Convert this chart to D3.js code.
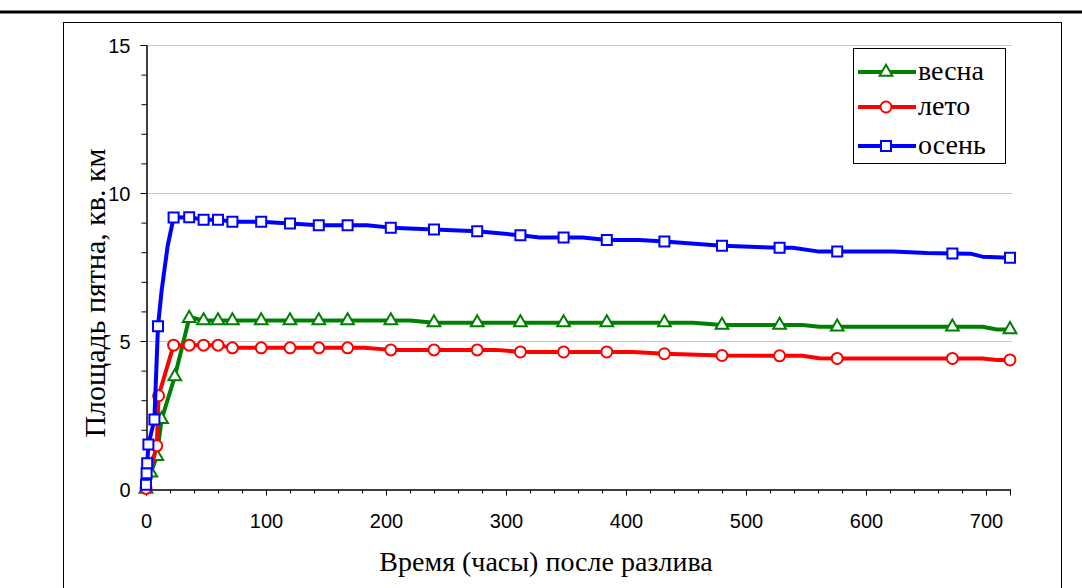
<!DOCTYPE html>
<html>
<head>
<meta charset="utf-8">
<script src="https://cdn.jsdelivr.net/npm/d3@7"></script>
<style>
    body { margin: 0; background: #fff; }
    svg { display: block; }
</style>
</head>
<body>
<svg id="chart" width="1082" height="588"></svg>
<script>
// весна
const springHours = [0, 1, 4, 9, 13, 24, 36, 38, 48, 60, 72, 96, 120, 144, 168, 204, 220, 240, 276, 312, 348, 384, 432, 456, 480, 528, 547, 561, 576, 672, 697, 709, 720];
const springValues = [0, 0.02, 0.55, 1.1, 2.35, 3.8, 5.77, 5.8, 5.69, 5.69, 5.69, 5.69, 5.69, 5.69, 5.69, 5.69, 5.69, 5.62, 5.62, 5.62, 5.62, 5.62, 5.62, 5.62, 5.54, 5.54, 5.54, 5.48, 5.48, 5.48, 5.48, 5.39, 5.39];
const springMarks = [0, 4, 9, 13, 24, 36, 48, 60, 72, 96, 120, 144, 168, 204, 240, 276, 312, 348, 384, 432, 480, 528, 576, 672, 720];

// лето
const summerHours = [0, 9, 10.5, 23, 36, 48, 60, 72, 96, 120, 144, 168, 182, 204, 240, 276, 292, 312, 348, 384, 406, 432, 480, 528, 547, 561, 576, 672, 697, 709, 720];
const summerValues = [0.02, 1.46, 3.15, 4.86, 4.86, 4.86, 4.86, 4.77, 4.77, 4.77, 4.77, 4.77, 4.77, 4.70, 4.70, 4.70, 4.70, 4.63, 4.63, 4.63, 4.63, 4.57, 4.51, 4.50, 4.50, 4.42, 4.41, 4.41, 4.41, 4.36, 4.36];
const summerMarks = [0, 9, 10.5, 23, 36, 48, 60, 72, 96, 120, 144, 168, 204, 240, 276, 312, 348, 384, 432, 480, 528, 576, 672, 720];

// осень
const autumnHours = [0, 0.5, 1, 2, 7, 10, 13, 18, 23, 36, 48, 60, 72, 96, 120, 144, 168, 184, 204, 240, 276, 312, 328, 348, 364, 384, 411, 432, 480, 528, 539, 561, 576, 622, 651, 672, 687, 697, 720];
const autumnValues = [0.14, 0.53, 0.87, 1.5, 2.35, 5.5, 6.7, 8.2, 9.17, 9.18, 9.1, 9.1, 9.03, 9.03, 8.97, 8.91, 8.91, 8.91, 8.83, 8.77, 8.71, 8.57, 8.50, 8.50, 8.50, 8.41, 8.41, 8.36, 8.22, 8.15, 8.15, 8.02, 8.02, 8.02, 7.97, 7.96, 7.95, 7.85, 7.81];
const autumnMarks = [0, 0.5, 1, 2, 7, 10, 23, 36, 48, 60, 72, 96, 120, 144, 168, 204, 240, 276, 312, 348, 384, 432, 480, 528, 576, 672, 720];

const seriesNames = ['весна', 'лето', 'осень'];
const xTicks = [0, 100, 200, 300, 400, 500, 600, 700];
const yTicks = [0, 5, 10, 15];

const xTitle = 'Время (часы) после разлива';
const yTitle = 'Площадь пятна, кв. км';

const series = [
    { name: seriesNames[0], hours: springHours, values: springValues, marks: springMarks, color: '#008000', symbol: d3.symbolTriangle, size: 70 },
    { name: seriesNames[1], hours: summerHours, values: summerValues, marks: summerMarks, color: '#ff0000', symbol: d3.symbolCircle, size: 95 },
    { name: seriesNames[2], hours: autumnHours, values: autumnValues, marks: autumnMarks, color: '#0000ff', symbol: d3.symbolSquare, size: 100 }
];

const svg = d3.select('#chart');

// outer frame
svg.append('line')
    .attr('x1', 0).attr('x2', 1082)
    .attr('y1', 12).attr('y2', 12)
    .attr('stroke', '#000').attr('stroke-width', 3);

svg.append('rect')
    .attr('x', 63.5).attr('y', 22.5)
    .attr('width', 998).attr('height', 600)
    .attr('fill', 'none').attr('stroke', '#000').attr('stroke-width', 1);

const margin = { left: 146, right: 1010, top: 45, bottom: 489 };

const xScale = d3.scaleLinear()
    .domain([0, 720])
    .range([margin.left, margin.right]);

const yScale = d3.scaleLinear()
    .domain([0, 15])
    .range([margin.bottom, margin.top]);

// gridlines
svg.append('g')
    .selectAll('line')
    .data(yTicks.filter(d => d > 0))
    .join('line')
    .attr('x1', margin.left).attr('x2', margin.right + 2)
    .attr('y1', d => Math.round(yScale(d)) + 0.5)
    .attr('y2', d => Math.round(yScale(d)) + 0.5)
    .attr('stroke', '#c8c8c8').attr('stroke-width', 1);

// x axis: minor ticks every 20, major every 100
const xAxisG = svg.append('g')
    .attr('transform', `translate(0,${margin.bottom + 0.5})`);

xAxisG.call(d3.axisBottom(xScale).tickValues(d3.range(0, 721, 20)).tickSize(4).tickFormat(''));
xAxisG.call(g => g.append('g').call(d3.axisBottom(xScale).tickValues(xTicks).tickSize(6).tickFormat(d3.format('d'))));
xAxisG.selectAll('.domain').attr('stroke', '#000');
xAxisG.selectAll('text')
    .attr('font-family', 'Liberation Sans, Arial, sans-serif')
    .attr('font-size', 20)
    .attr('fill', '#000')
    .attr('dy', '1.45em');

// y axis: minor ticks every 1, labels every 5
const yAxisG = svg.append('g')
    .attr('transform', `translate(${margin.left + 0.5},0)`);

yAxisG.call(d3.axisLeft(yScale).tickValues(d3.range(0, 16, 1)).tickSize(5).tickFormat(''));
yAxisG.call(g => g.append('g').call(d3.axisLeft(yScale).tickValues(yTicks).tickSize(6).tickFormat(d3.format('d'))));
yAxisG.selectAll('text')
    .attr('font-family', 'Liberation Sans, Arial, sans-serif')
    .attr('font-size', 20)
    .attr('fill', '#000')
    .attr('x', -16)
    .attr('dy', '0.36em');

// series
const line = d3.line()
    .x(d => xScale(d[0]))
    .y(d => yScale(d[1]));

series.forEach(s => {
    const points = d3.zip(s.hours, s.values);

    svg.append('path')
        .datum(points)
        .attr('fill', 'none')
        .attr('stroke', s.color)
        .attr('stroke-width', 4)
        .attr('stroke-linejoin', 'round')
        .attr('d', line);

    svg.append('g')
        .selectAll('path')
        .data(points.filter(p => s.marks.includes(p[0])))
        .join('path')
        .attr('transform', d => `translate(${xScale(d[0])},${yScale(d[1])})`)
        .attr('d', d3.symbol().type(s.symbol).size(s.size))
        .attr('fill', '#fff')
        .attr('stroke', s.color)
        .attr('stroke-width', 2);
});

// axis titles
svg.append('text')
    .attr('x', 546)
    .attr('y', 571)
    .attr('text-anchor', 'middle')
    .attr('font-family', 'Liberation Serif, Times New Roman, serif')
    .attr('font-size', 28)
    .text(xTitle);

svg.append('text')
    .attr('transform', 'translate(105,293) rotate(-90)')
    .attr('text-anchor', 'middle')
    .attr('font-family', 'Liberation Serif, Times New Roman, serif')
    .attr('font-size', 30)
    .text(yTitle);

// legend
const legend = svg.append('g');

legend.append('rect')
    .attr('x', 853.5).attr('y', 48.5)
    .attr('width', 152).attr('height', 115)
    .attr('fill', '#fff').attr('stroke', '#000').attr('stroke-width', 1);

const legendRows = [72, 107, 146];

series.forEach((s, i) => {
    const ly = legendRows[i];
    legend.append('line')
        .attr('x1', 858).attr('x2', 916)
        .attr('y1', ly).attr('y2', ly)
        .attr('stroke', s.color).attr('stroke-width', 4);
    legend.append('path')
        .attr('transform', `translate(886,${ly})`)
        .attr('d', d3.symbol().type(s.symbol).size(s.size))
        .attr('fill', '#fff')
        .attr('stroke', s.color)
        .attr('stroke-width', 2);
    legend.append('text')
        .attr('x', 918)
        .attr('y', ly + 8)
        .attr('font-family', 'Liberation Serif, Times New Roman, serif')
        .attr('font-size', 28)
        .text(s.name);
});
</script>
</body>
</html>
